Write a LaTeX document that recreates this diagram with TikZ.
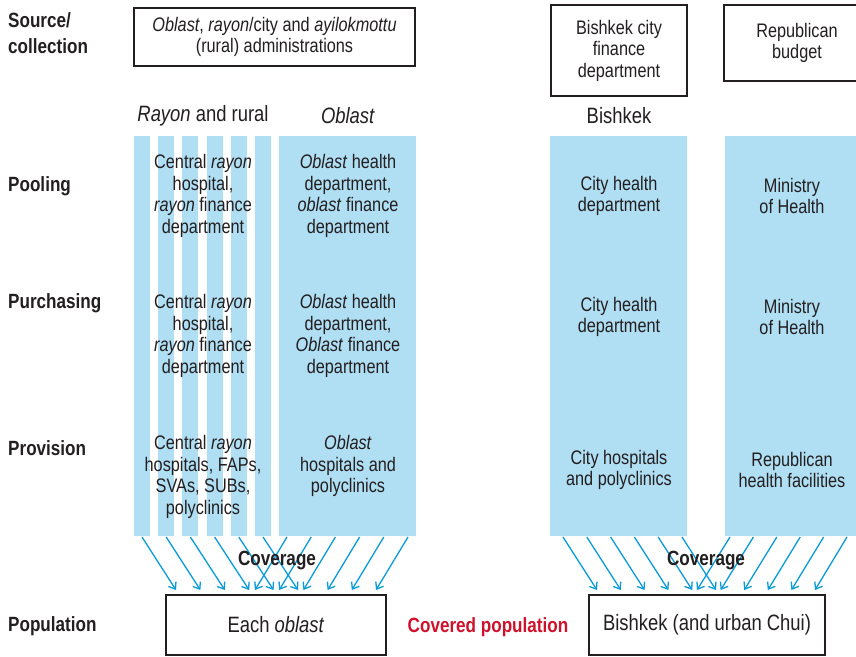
\documentclass[tikz,border=0pt]{standalone}
\usepackage{fontspec}
\setmainfont{Liberation Sans}[FakeStretch=0.83]
\usetikzlibrary{arrows.meta}
\definecolor{stripeblue}{HTML}{B0DEF3}
\definecolor{arrowblue}{HTML}{0A9BD8}
\definecolor{inkgrey}{HTML}{231F20}
\definecolor{coverred}{HTML}{D0112B}

\begin{document}
\begin{tikzpicture}[x=1pt,y=-1pt,
  txt/.style={font=\fontsize{19.6}{21.5}\selectfont, text=inkgrey, align=center, inner sep=0pt},
  bigtxt/.style={txt, font=\fontsize{22.2}{24}\selectfont},
  rowlabel/.style={font=\fontsize{20.6}{26}\selectfont\bfseries, text=inkgrey, anchor=west, align=left, inner sep=0pt},
  boldlabel/.style={font=\fontsize{20.6}{23}\selectfont\bfseries, inner sep=0pt},
  framebox/.style={txt, draw=inkgrey, line width=2.2pt},
  stripe/.style={fill=stripeblue, inner sep=0pt, minimum height=400pt},
  cover/.style={draw=arrowblue, line width=1.3pt, -{Straight Barb[length=6pt,width=9pt,line width=1.3pt]}}
]
\clip (0,0) rectangle (856,656);
\fill[white] (0,0) rectangle (856,656);

% row labels
\node[rowlabel] (lsrc) at (8,33) {Source/\\collection};
\node[rowlabel] (lpool) at (8,186) {Pooling};
\node[rowlabel] (lpurch) at (8,303) {Purchasing};
\node[rowlabel] (lprov) at (8,448) {Provision};
\node[rowlabel] (lpop) at (8,626) {Population};

% sources of funds
\node[framebox, minimum width=281pt, minimum height=58pt] (src) at (274.5,37)
  {\textit{Oblast}, \textit{rayon}/city and \textit{ayilokmottu}\\(rural) administrations};
\node[framebox, minimum width=136pt, minimum height=91pt] (bfin) at (619,50.5)
  {Bishkek city\\finance\\department};
\node[framebox, minimum width=146pt, minimum height=76pt] (rep) at (797,43)
  {Republican\\budget};

% column headings
\node[bigtxt] (hray) at (203,116) {\textit{Rayon} and rural};
\node[bigtxt] (hobl) at (348,116) {\textit{Oblast}};
\node[bigtxt] (hbis) at (619,116) {Bishkek};

% pooled fund stripes
\foreach \k in {0,...,5}
  \node[stripe, minimum width=16pt] (ray\k) at ({142+24.2*\k},336) {};
\node[stripe, minimum width=137pt] (obl) at (347.5,336) {};
\node[stripe, minimum width=137pt] (city) at (618.5,336) {};
\node[stripe, minimum width=137pt] (min) at (793.5,336) {};

% pooling
\node[txt] (poolray) at (203,196) {Central \textit{rayon}\\hospital,\\\textit{rayon} finance\\department};
\node[txt] (poolobl) at (348,196) {\textit{Oblast} health\\department,\\\textit{oblast} finance\\department};
\node[txt] (poolcity) at (619,196) {City health\\department};
\node[txt] (poolmin) at (792,196) {Ministry\\of Health};

% purchasing
\node[txt] (purray) at (203,336) {Central \textit{rayon}\\hospital,\\\textit{rayon} finance\\department};
\node[txt] (purobl) at (348,336) {\textit{Oblast} health\\department,\\\textit{Oblast} finance\\department};
\node[txt] (purcity) at (619,317) {City health\\department};
\node[txt] (purmin) at (792,317) {Ministry\\of Health};

% provision
\node[txt] (provray) at (203,477) {Central \textit{rayon}\\hospitals, FAPs,\\SVAs, SUBs,\\polyclinics};
\node[txt] (provobl) at (348,466) {\textit{Oblast}\\hospitals and\\polyclinics};
\node[txt] (provcity) at (619,470) {City hospitals\\and polyclinics};
\node[txt] (provmin) at (792,470) {Republican\\health facilities};

% covered populations
\node[framebox, bigtxt, minimum width=220pt, minimum height=60pt] (each) at (276,625) {Each \textit{oblast}};
\node[framebox, bigtxt, minimum width=236pt, minimum height=60pt] (bish) at (707,625) {Bishkek (and urban Chui)};
\node[boldlabel, text=coverred] (covpop) at (488,627) {Covered population};

% coverage arrows
\foreach \k in {0,...,5}{
  \coordinate (ra\k) at ({142+24.2*\k},537);
  \coordinate (rb\k) at ({176+24.4*\k},590);
  \draw[cover] (ra\k) -- (rb\k);
  \coordinate (oa\k) at ({287+24.2*\k},537);
  \coordinate (ob\k) at ({255+24.2*\k},590);
  \draw[cover] (oa\k) -- (ob\k);
  \coordinate (ca\k) at ({563+23.8*\k},537);
  \coordinate (cb\k) at ({597+23.8*\k},590);
  \draw[cover] (ca\k) -- (cb\k);
  \coordinate (ma\k) at ({730+23.4*\k},537);
  \coordinate (mb\k) at ({697+23.6*\k},590);
  \draw[cover] (ma\k) -- (mb\k);
}
\node[boldlabel, text=inkgrey] (covl) at (277,560) {Coverage};
\node[boldlabel, text=inkgrey] (covr) at (706,560) {Coverage};
\end{tikzpicture}
\end{document}
